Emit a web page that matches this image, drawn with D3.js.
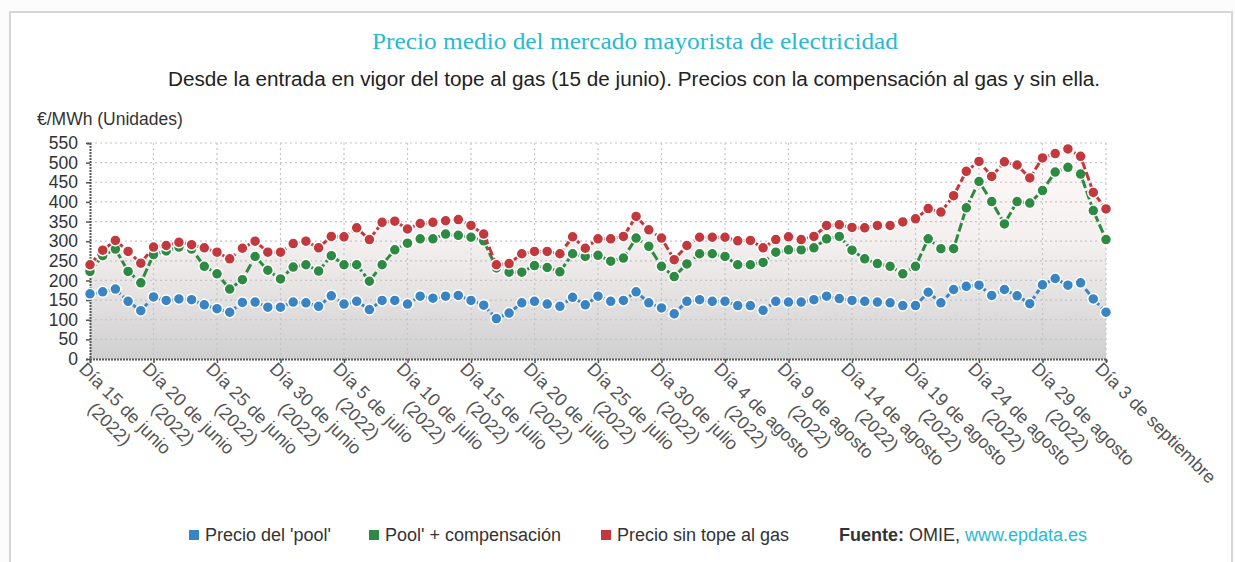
<!DOCTYPE html>
<html>
<head>
<meta charset="utf-8">
<script src="https://cdn.jsdelivr.net/npm/d3@7"></script>
<style>
  body { margin: 0; background: #fafafa; }
  svg { display: block; }
</style>
</head>
<body>
<svg id="chart" width="1235" height="562"></svg>
<script>
// tick labels every 5 days (index 0,5,...,80)
const tick_index = [0, 5, 10, 15, 20, 25, 30, 35, 40, 45, 50, 55, 60, 65, 70, 75, 80];
const tick_labels = [
    ['Día 15 de junio', '(2022)'], ['Día 20 de junio', '(2022)'], ['Día 25 de junio', '(2022)'],
    ['Día 30 de junio', '(2022)'], ['Día 5 de julio', '(2022)'], ['Día 10 de julio', '(2022)'],
    ['Día 15 de julio', '(2022)'], ['Día 20 de julio', '(2022)'], ['Día 25 de julio', '(2022)'],
    ['Día 30 de julio', '(2022)'], ['Día 4 de agosto', '(2022)'], ['Día 9 de agosto', '(2022)'],
    ['Día 14 de agosto', '(2022)'], ['Día 19 de agosto', '(2022)'], ['Día 24 de agosto', '(2022)'],
    ['Día 29 de agosto', '(2022)'], ['Día 3 de septiembre']
];
const y_ticks = [0, 50, 100, 150, 200, 250, 300, 350, 400, 450, 500, 550];

// Precio del 'pool'
const pool = [166, 171, 178, 147, 123, 158, 149, 153, 151, 138, 128, 119, 144, 145, 132, 132, 145, 143, 134, 161,
    140, 147, 126, 149, 149, 140, 160, 155, 160, 162, 149, 137, 103, 117, 143, 147, 140, 134, 157, 138,
    160, 147, 149, 171, 143, 130, 115, 147, 151, 147, 147, 136, 136, 124, 147, 145, 145, 151, 160, 154,
    149, 147, 145, 143, 136, 136, 170, 143, 177, 185, 188, 162, 177, 161, 141, 189, 205, 188, 194, 153, 119];
// Pool' + compensación
const pool_comp = [223, 263, 280, 223, 194, 266, 275, 285, 280, 236, 217, 178, 202, 261, 226, 204, 234, 240, 224, 263,
    240, 240, 198, 240, 278, 295, 306, 306, 318, 315, 310, 301, 232, 221, 221, 238, 233, 222, 268, 261,
    264, 249, 257, 308, 287, 236, 210, 242, 268, 268, 261, 240, 240, 246, 272, 278, 278, 283, 306, 312,
    277, 255, 243, 236, 217, 236, 306, 281, 281, 385, 452, 401, 344, 401, 397, 429, 476, 488, 471, 378, 304];
// Precio sin tope al gas
const sin_tope = [240, 277, 302, 274, 244, 285, 289, 297, 291, 283, 272, 255, 282, 300, 272, 272, 294, 300, 283, 312,
    311, 334, 304, 348, 351, 331, 345, 348, 352, 355, 340, 318, 240, 243, 268, 274, 274, 268, 311, 282,
    306, 306, 312, 363, 329, 308, 253, 289, 310, 310, 310, 301, 302, 283, 304, 311, 304, 312, 340, 342,
    335, 334, 340, 340, 349, 357, 383, 374, 416, 478, 503, 465, 502, 494, 461, 512, 523, 535, 516, 424, 382];

const series_names = ["Precio del 'pool'", "Pool' + compensación", "Precio sin tope al gas"];
const series_colors = ['#3b84c4', '#2e8a42', '#c2383c'];

const svg = d3.select('#chart');
const font = "'Liberation Sans', Arial, sans-serif";

// card
svg.append('rect').attr('x', 0).attr('y', 0).attr('width', 1235).attr('height', 562).attr('fill', '#fcfcfc');
svg.append('rect').attr('x', 10).attr('y', 12).attr('width', 1222).attr('height', 600)
    .attr('fill', '#ffffff').attr('stroke', '#d6d6d6').attr('stroke-width', 2);

// titles
svg.append('text').attr('x', 372).attr('y', 49)
    .attr('textLength', 526).attr('lengthAdjust', 'spacingAndGlyphs')
    .style('font-family', "'Liberation Serif', 'Times New Roman', serif").style('font-size', '23px')
    .attr('fill', '#2ab9d2').text('Precio medio del mercado mayorista de electricidad');
svg.append('text').attr('x', 168).attr('y', 86)
    .attr('textLength', 932).attr('lengthAdjust', 'spacingAndGlyphs')
    .style('font-family', font).style('font-size', '19.5px').attr('fill', '#222')
    .text('Desde la entrada en vigor del tope al gas (15 de junio). Precios con la compensación al gas y sin ella.');
svg.append('text').attr('x', 37).attr('y', 125)
    .style('font-family', font).style('font-size', '17.5px').attr('fill', '#333')
    .text('€/MWh (Unidades)');

let margin = {top: 143, left: 90, right: 1106, bottom: 359};

let x = d3.scaleLinear().domain([0, pool.length - 1]).range([margin.left, margin.right]);
let y = d3.scaleLinear().domain([0, 550]).range([margin.bottom, margin.top]);

let defs = svg.append('defs');
let grad = defs.append('linearGradient').attr('id', 'area_grad')
    .attr('gradientUnits', 'userSpaceOnUse')
    .attr('x1', 0).attr('y1', margin.top).attr('x2', 0).attr('y2', margin.bottom);
grad.append('stop').attr('offset', '0%').attr('stop-color', '#fff8f8');
grad.append('stop').attr('offset', '45%').attr('stop-color', '#f5f0f0');
grad.append('stop').attr('offset', '100%').attr('stop-color', '#d0d0d0');

// area under the highest series
svg.append('path')
    .datum(sin_tope)
    .attr('fill', 'url(#area_grad)')
    .attr('d', d3.area().x((d, i) => x(i)).y0(y(0)).y1(d => y(d)));

// grid
svg.append('g').selectAll('line').data(y_ticks.filter(v => v > 0)).join('line')
    .attr('x1', margin.left).attr('x2', margin.right)
    .attr('y1', d => y(d)).attr('y2', d => y(d))
    .attr('stroke', '#c4c4c4').attr('stroke-width', 1.2).attr('stroke-dasharray', '2,3');
svg.append('g').selectAll('line').data(tick_index.filter(v => v > 0)).join('line')
    .attr('x1', d => x(d)).attr('x2', d => x(d))
    .attr('y1', margin.top).attr('y2', margin.bottom)
    .attr('stroke', '#c4c4c4').attr('stroke-width', 1.2).attr('stroke-dasharray', '2,3');

// y axis
let y_axis = svg.append('g').attr('transform', 'translate(' + margin.left + ',0)')
    .call(d3.axisLeft(y).tickValues(y_ticks).tickSize(4).tickPadding(8));
y_axis.select('.domain').attr('stroke', '#555').attr('stroke-width', 2).attr('stroke-dasharray', '2,1');
y_axis.selectAll('.tick line').attr('stroke', '#555').attr('stroke-width', 1.5);
y_axis.selectAll('text').style('font-family', font).style('font-size', '17.5px').attr('fill', '#333');

// x axis
let x_axis = svg.append('g').attr('transform', 'translate(0,' + margin.bottom + ')')
    .call(d3.axisBottom(x).tickValues(tick_index).tickSize(4).tickFormat(''));
x_axis.select('.domain').attr('stroke', '#555').attr('stroke-width', 2).attr('stroke-dasharray', '2,1');
x_axis.selectAll('.tick line').attr('stroke', '#555').attr('stroke-width', 1.5);

tick_index.forEach(function (t, k) {
    let g = svg.append('g')
        .attr('transform', 'translate(' + (x(t) - 12) + ',' + (margin.bottom + 11) + ') rotate(45)');
    let first = g.append('text').attr('x', 0).attr('y', 0)
        .style('font-family', font).style('font-size', '18px').attr('fill', '#555')
        .text(tick_labels[k][0]);
    if (tick_labels[k].length > 1) {
        let len = first.node().getComputedTextLength();
        g.append('text').attr('x', len / 2).attr('y', 22).attr('text-anchor', 'middle')
            .style('font-family', font).style('font-size', '18px').attr('fill', '#555')
            .text(tick_labels[k][1]);
    }
});

// series
let all_series = [pool, pool_comp, sin_tope];
let line = d3.line().x((d, i) => x(i)).y(d => y(d));

all_series.forEach(function (s, k) {
    let g = svg.append('g');
    g.append('path').datum(s)
        .attr('fill', 'none').attr('stroke', series_colors[k]).attr('stroke-width', 3)
        .attr('stroke-dasharray', '9,3')
        .attr('d', line);
    g.selectAll('circle').data(s).join('circle')
        .attr('cx', (d, i) => x(i)).attr('cy', d => y(d)).attr('r', 5.5)
        .attr('fill', series_colors[k]).attr('stroke', '#fff').attr('stroke-width', 1.5);
});

// legend
let legend_x = [189, 369, 601];
let legend = svg.append('g');
series_names.forEach(function (name, k) {
    legend.append('rect').attr('x', legend_x[k]).attr('y', 530).attr('width', 10).attr('height', 10)
        .attr('fill', series_colors[k]);
    legend.append('text').attr('x', legend_x[k] + 16).attr('y', 541)
        .style('font-family', font).style('font-size', '18px').attr('fill', '#333').text(name);
});
let src = legend.append('text').attr('x', 839).attr('y', 541)
    .style('font-family', font).style('font-size', '18px').attr('fill', '#333');
src.append('tspan').style('font-weight', 'bold').text('Fuente:');
src.append('tspan').text(' OMIE, ');
src.append('tspan').attr('fill', '#2ab9d2').text('www.epdata.es');
</script>
</body>
</html>
